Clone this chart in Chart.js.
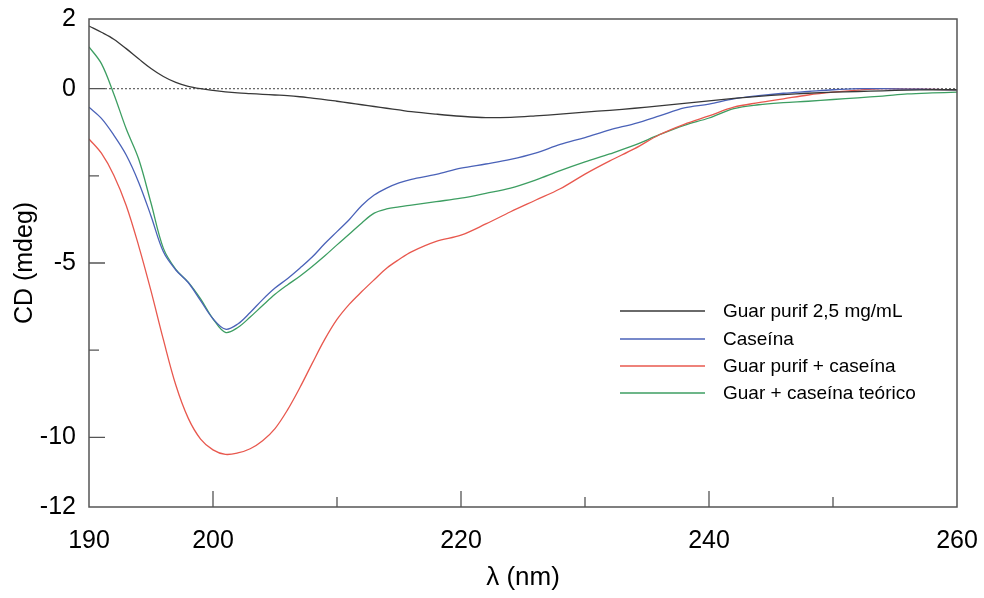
<!DOCTYPE html>
<html>
<head>
<meta charset="utf-8">
<script src="https://cdn.jsdelivr.net/npm/chart.js@4/dist/chart.umd.min.js"></script>
<style>
html,body{margin:0;padding:0;background:#fff;}
#wrap{width:984px;height:598px;position:relative;}
</style>
</head>
<body>
<div id="wrap"><canvas id="c" width="984" height="598"></canvas></div>
<script>
// wavelength (nm)
const wavelength = [190,191,192,193,194,195,196,197,198,199,200,201,202,203,204,205,206,207,208,209,210,211,212,213,214,215,216,218,220,222,224,226,228,230,232,234,236,238,240,242,244,246,248,250,252,254,256,258,260];
// CD (mdeg)
const guarPurif = [1.80,1.62,1.42,1.15,0.86,0.58,0.35,0.18,0.07,0.00,-0.05,-0.09,-0.12,-0.14,-0.16,-0.18,-0.20,-0.23,-0.27,-0.31,-0.36,-0.41,-0.46,-0.51,-0.56,-0.61,-0.66,-0.73,-0.79,-0.83,-0.82,-0.78,-0.73,-0.67,-0.62,-0.56,-0.49,-0.42,-0.35,-0.28,-0.22,-0.17,-0.13,-0.10,-0.08,-0.06,-0.04,-0.03,-0.03];
const caseina = [-0.53,-0.85,-1.33,-1.90,-2.68,-3.65,-4.68,-5.20,-5.56,-6.08,-6.60,-6.90,-6.75,-6.42,-6.05,-5.72,-5.45,-5.15,-4.83,-4.45,-4.10,-3.75,-3.35,-3.05,-2.85,-2.70,-2.60,-2.46,-2.28,-2.16,-2.03,-1.85,-1.60,-1.40,-1.18,-1.00,-0.78,-0.55,-0.44,-0.29,-0.20,-0.13,-0.08,-0.03,0.00,0.00,-0.01,-0.02,-0.03];
const guarCaseina = [-1.44,-1.85,-2.48,-3.35,-4.50,-5.80,-7.20,-8.50,-9.45,-10.05,-10.36,-10.49,-10.45,-10.33,-10.10,-9.75,-9.22,-8.58,-7.88,-7.20,-6.62,-6.18,-5.82,-5.48,-5.15,-4.90,-4.68,-4.38,-4.20,-3.88,-3.53,-3.20,-2.87,-2.45,-2.07,-1.72,-1.32,-1.02,-0.78,-0.53,-0.40,-0.29,-0.18,-0.10,-0.04,0.00,-0.01,-0.02,-0.03];
const teorico = [1.20,0.72,-0.15,-1.15,-2.01,-3.28,-4.58,-5.18,-5.55,-6.03,-6.60,-6.99,-6.85,-6.55,-6.22,-5.90,-5.63,-5.38,-5.10,-4.80,-4.48,-4.17,-3.85,-3.57,-3.45,-3.39,-3.34,-3.24,-3.14,-3.00,-2.85,-2.62,-2.35,-2.10,-1.87,-1.62,-1.32,-1.05,-0.84,-0.57,-0.46,-0.40,-0.36,-0.31,-0.26,-0.21,-0.15,-0.12,-0.10];

const seriesLabels = ['Guar purif 2,5 mg/mL','Caseína','Guar purif + caseína','Guar + caseína teórico'];
const xTickLabels = [190,200,220,240,260];
const yTickLabels = [-12,-10,-5,0,2];
const xTickMarks = [200,210,220,230,240,250];
const yTickMarks = [-10,-7.5,-5,-2.5,0];

const colors = ['#383838','#4a62b8','#e8584e','#3d9e62'];
const seriesData = [guarPurif, caseina, guarCaseina, teorico];

const datasets = seriesData.map((arr,i)=>({
  label: seriesLabels[i],
  data: wavelength.map((w,j)=>({x:w,y:arr[j]})),
  borderColor: colors[i],
  borderWidth: 1.3,
  pointRadius: 0,
  tension: 0.35,
  fill: false
}));

const FONT = "'Liberation Sans', Arial, sans-serif";

const framePlugin = {
  id:'frame',
  beforeDatasetsDraw(chart){
    const {ctx, chartArea:a, scales:{x,y}} = chart;
    ctx.save();
    const y0 = y.getPixelForValue(0);
    ctx.strokeStyle = '#444';
    ctx.lineWidth = 1;
    ctx.setLineDash([2,2]);
    ctx.beginPath(); ctx.moveTo(a.left+16, y0); ctx.lineTo(a.right, y0); ctx.stroke();
    ctx.setLineDash([]);
    ctx.restore();
  },
  afterDatasetsDraw(chart){
    const {ctx, chartArea:a, scales:{x,y}} = chart;
    ctx.save();
    ctx.strokeStyle = '#555';
    ctx.lineWidth = 1.5;
    ctx.strokeRect(a.left, a.top, a.right-a.left, a.bottom-a.top);
    ctx.lineWidth = 1.3;
    ctx.beginPath();
    xTickMarks.forEach(v=>{
      const px = x.getPixelForValue(v);
      const len = (v % 20 === 0) ? 16 : 10;
      ctx.moveTo(px, a.bottom); ctx.lineTo(px, a.bottom-len);
    });
    yTickMarks.forEach(v=>{
      const py = y.getPixelForValue(v);
      const len = (v % 5 === 0) ? 16 : 10;
      ctx.moveTo(a.left, py); ctx.lineTo(a.left+len, py);
    });
    ctx.stroke();
    // legend
    const rows = [311, 339, 366, 393];
    ctx.font = "19px " + FONT;
    ctx.textBaseline = 'middle';
    ctx.fillStyle = '#000';
    chart.data.datasets.forEach((d,i)=>{
      ctx.strokeStyle = d.borderColor;
      ctx.lineWidth = 1.3;
      ctx.beginPath(); ctx.moveTo(620, rows[i]); ctx.lineTo(705, rows[i]); ctx.stroke();
      ctx.fillText(d.label, 723, rows[i]+1);
    });
    ctx.restore();
  }
};

new Chart(document.getElementById('c'), {
  type:'line',
  data:{datasets},
  options:{
    responsive:false,
    animation:false,
    layout:{padding:{top:19,right:27,left:0,bottom:0}},
    plugins:{legend:{display:false},tooltip:{enabled:false}},
    scales:{
      x:{
        type:'linear', min:190, max:260,
        afterFit(s){ s.height = 91; s.paddingLeft = 0; s.paddingRight = 0; },
        afterBuildTicks(s){ s.ticks = xTickLabels.map(v=>({value:v})); },
        grid:{display:false, drawTicks:false},
        border:{display:false},
        ticks:{font:{family:FONT,size:25}, color:'#000', padding:19, maxRotation:0, autoSkip:false},
        title:{display:true, text:'λ (nm)', font:{family:FONT,size:26}, color:'#000', padding:{top:0,bottom:5}}
      },
      y:{
        type:'linear', min:-12, max:2,
        afterFit(s){ s.width = 89; s.paddingTop = 0; s.paddingBottom = 0; },
        afterBuildTicks(s){ s.ticks = yTickLabels.map(v=>({value:v})); },
        grid:{display:false, drawTicks:false},
        border:{display:false},
        ticks:{font:{family:FONT,size:25}, color:'#000', padding:13, autoSkip:false},
        title:{display:true, text:'CD (mdeg)', font:{family:FONT,size:25}, color:'#000', padding:{top:10,bottom:0}}
      }
    }
  },
  plugins:[framePlugin]
});
</script>
</body>
</html>
